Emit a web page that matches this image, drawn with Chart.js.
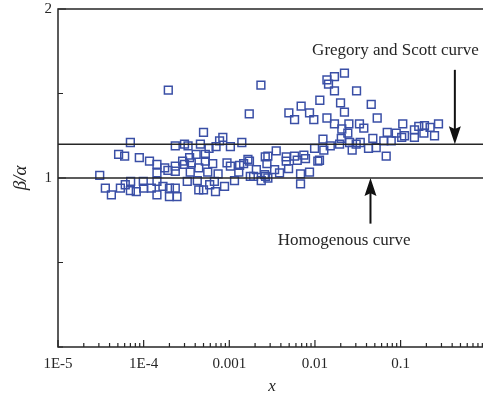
<!DOCTYPE html>
<html>
<head>
<meta charset="utf-8">
<script src="https://cdn.jsdelivr.net/npm/chart.js@4.4.1/dist/chart.umd.min.js"></script>
<style>
    html, body { margin: 0; padding: 0; background: #fff; overflow: hidden; }
    #wrap { position: relative; width: 498px; height: 401px; margin-top: -6px; }
</style>
</head>
<body>
<div id="wrap"><canvas id="ratioChart"></canvas></div>
<script>
const xTickValues = [1e-5, 1e-4, 1e-3, 1e-2, 1e-1, 1];
const xTickLabels = ['1E-5', '1E-4', '0.001', '0.01', '0.1', '1'];
const yTickValues = [0, 0.5, 1, 1.5, 2];
const yTickLabels = ['', '', '1', '', '2'];

const homogenousLevel = 1;
const gregoryScottLevel = 1.2;
const annotationLabels = ['Gregory and Scott curve', 'Homogenous curve'];

// measured points, x and y paired by index
const sampleX = [
    1.94e-4, 2.34e-3, 1.71e-3, 5.0e-4, 8.4e-4, 7.7e-4, 7.0e-5, 2.34e-4, 3.0e-4, 3.3e-4,
    4.6e-4, 5.8e-4, 7.0e-4, 1.03e-3, 1.40e-3, 5.1e-5, 6.0e-5, 8.9e-5, 1.17e-4, 1.43e-4,
    1.76e-4, 2.34e-4, 2.85e-4, 3.44e-4, 4.1e-4, 5.25e-4, 5.25e-4, 3.6e-4, 3.0e-4, 4.4e-4,
    6.4e-4, 9.4e-4, 1.03e-3, 1.47e-3, 1.72e-3, 2.63e-3, 1.43e-4, 2.34e-4, 1.92e-4, 3.5e-4,
    5.6e-4, 7.4e-4, 1.29e-3, 2.07e-3, 3.07e-5, 3.57e-5, 4.2e-5, 5.35e-5, 6.1e-5, 7.05e-5,
    8.2e-5, 7.0e-5, 9.9e-5, 1.0e-4, 1.23e-4, 1.43e-4, 1.43e-4, 1.68e-4, 2.0e-4, 2.0e-4,
    2.45e-4, 2.34e-4, 3.23e-4, 4.23e-4, 4.4e-4, 5.0e-4, 5.9e-4, 6.9e-4, 8.8e-4, 1.15e-3,
    2.36e-3, 1.92e-3, 6.7e-4,
    2.21e-2, 1.69e-2, 1.38e-2, 1.44e-2, 1.69e-2, 3.06e-2, 1.14e-2, 1.99e-2, 4.54e-2, 6.9e-3,
    4.96e-3, 5.78e-3, 8.64e-3, 9.7e-3, 2.21e-2, 5.33e-2, 1.38e-2, 1.69e-2, 2.49e-2, 3.31e-2,
    3.72e-2, 2.06e-2, 2.42e-2, 0.106, 6.98e-2, 8.89e-2, 0.111, 0.145, 0.163, 0.190,
    0.221, 0.277, 0.249, 0.187, 0.145, 0.103, 7.77e-2, 6.37e-2, 4.74e-2, 2.03e-2,
    1.24e-2, 2.54e-2, 3.03e-2, 3.38e-2, 1.94e-2, 1.51e-2, 9.9e-3, 1.27e-2, 2.72e-2, 4.22e-2,
    5.19e-2, 6.79e-2, 1.13e-2, 7.42e-3, 7.76e-3, 5.78e-3, 6.21e-3, 4.62e-3, 3.53e-3, 2.82e-3,
    4.92e-3, 6.79e-3, 8.64e-3, 6.79e-3, 3.38e-3, 2.58e-3, 3.86e-3, 2.82e-3, 4.62e-3,
    2.75e-3, 1.08e-2, 1.32e-3, 1.65e-3, 1.76e-3, 2.65e-3
];
const sampleY = [
    1.52, 1.55, 1.38, 1.27, 1.24, 1.22, 1.21, 1.19, 1.20, 1.19,
    1.20, 1.175, 1.185, 1.185, 1.21, 1.14, 1.13, 1.12, 1.10, 1.08,
    1.06, 1.07, 1.10, 1.12, 1.14, 1.14, 1.10, 1.09, 1.08, 1.06,
    1.085, 1.09, 1.07, 1.085, 1.10, 1.125, 1.03, 1.04, 1.045, 1.035,
    1.035, 1.025, 1.035, 1.05, 1.015, 0.94, 0.90, 0.94, 0.96, 0.98,
    0.92, 0.925, 0.98, 0.94, 0.94, 0.98, 0.90, 0.95, 0.94, 0.89,
    0.89, 0.94, 0.98, 0.985, 0.93, 0.93, 0.96, 0.92, 0.95, 0.985,
    0.985, 1.01, 0.98,
    1.62, 1.60, 1.58, 1.555, 1.515, 1.515, 1.46, 1.445, 1.435, 1.425,
    1.385, 1.345, 1.385, 1.345, 1.39, 1.355, 1.355, 1.32, 1.32, 1.32,
    1.295, 1.29, 1.265, 1.32, 1.27, 1.265, 1.25, 1.285, 1.305, 1.31,
    1.30, 1.32, 1.25, 1.265, 1.24, 1.24, 1.22, 1.22, 1.235, 1.235,
    1.23, 1.21, 1.20, 1.21, 1.20, 1.19, 1.175, 1.165, 1.165, 1.175,
    1.18, 1.13, 1.105, 1.135, 1.115, 1.13, 1.105, 1.125, 1.16, 1.13,
    1.055, 1.025, 1.035, 0.965, 1.05, 1.02, 1.03, 1.00, 1.10,
    1.085, 1.10, 1.075, 1.11, 1.01, 1.01
];

const ink = '#262626';
const markerBlue = '#3a4fa6';
const serif = "'Liberation Serif', 'DejaVu Serif', serif";

function drawArrow(ctx, px, fromY, toY) {
    const dir = Math.sign(toY - fromY);
    const headLen = 18;
    const headHalf = 6;

    ctx.beginPath();
    ctx.moveTo(px, fromY);
    ctx.lineTo(px, toY - dir * headLen * 0.8);
    ctx.stroke();

    ctx.beginPath();
    ctx.moveTo(px, toY);
    ctx.lineTo(px - headHalf, toY - dir * headLen);
    ctx.lineTo(px, toY - dir * headLen * 0.85);
    ctx.lineTo(px + headHalf, toY - dir * headLen);
    ctx.closePath();
    ctx.fill();
}

const frameAndNotes = {
    id: 'frameAndNotes',
    afterDatasetsDraw(chart) {
        const { ctx, chartArea: area, scales: { x, y } } = chart;

        ctx.save();
        ctx.strokeStyle = ink;
        ctx.lineWidth = 1.5;

        ctx.beginPath();
        ctx.moveTo(area.left, area.top);
        ctx.lineTo(area.right, area.top);
        ctx.lineTo(area.right, area.bottom);
        ctx.lineTo(area.left, area.bottom);
        ctx.closePath();
        ctx.stroke();

        // inside ticks on the x axis
        ctx.lineWidth = 1.2;
        ctx.beginPath();
        for (let d = -5; d <= 0; d++) {
            const major = x.getPixelForValue(Math.pow(10, d));
            ctx.moveTo(major, area.bottom);
            ctx.lineTo(major, area.bottom - 7);
            if (d === 0) {
                continue;
            }
            for (let m = 2; m <= 9; m++) {
                const px = x.getPixelForValue(m * Math.pow(10, d));
                ctx.moveTo(px, area.bottom);
                ctx.lineTo(px, area.bottom - 4);
            }
        }

        // inside ticks on the y axis
        yTickValues.forEach((value, i) => {
            const py = y.getPixelForValue(value);
            ctx.moveTo(area.left, py);
            ctx.lineTo(area.left + (yTickLabels[i] ? 8 : 5), py);
        });
        ctx.stroke();

        // arrows and their labels
        ctx.strokeStyle = '#111';
        ctx.fillStyle = '#111';
        ctx.lineWidth = 2;
        drawArrow(ctx, x.getPixelForValue(0.43), y.getPixelForValue(1.64), y.getPixelForValue(gregoryScottLevel));
        drawArrow(ctx, x.getPixelForValue(0.0445), y.getPixelForValue(0.73), y.getPixelForValue(homogenousLevel));

        ctx.fillStyle = ink;
        ctx.font = '17px ' + serif;
        ctx.textAlign = 'center';
        ctx.textBaseline = 'middle';
        ctx.fillText(annotationLabels[0], x.getPixelForValue(0.087), y.getPixelForValue(1.755));
        ctx.fillText(annotationLabels[1], x.getPixelForValue(0.0219), y.getPixelForValue(0.632));
        ctx.restore();
    },
};

const canvas = document.getElementById('ratioChart');

new Chart(canvas, {
    data: {
        datasets: [
            {
                type: 'line',
                data: [{ x: xTickValues[0], y: homogenousLevel }, { x: xTickValues[5], y: homogenousLevel }],
                borderColor: ink,
                borderWidth: 1.4,
                pointRadius: 0,
            },
            {
                type: 'line',
                data: [{ x: xTickValues[0], y: gregoryScottLevel }, { x: xTickValues[5], y: gregoryScottLevel }],
                borderColor: ink,
                borderWidth: 1.4,
                pointRadius: 0,
            },
            {
                type: 'scatter',
                data: sampleX.map((value, i) => ({ x: value, y: sampleY[i] })),
                pointStyle: 'rect',
                pointRadius: 5.5,
                borderColor: markerBlue,
                borderWidth: 1.5,
                backgroundColor: 'rgba(0,0,0,0)',
            },
        ],
    },
    options: {
        responsive: true,
        maintainAspectRatio: false,
        animation: false,
        events: [],
        layout: {
            padding: { top: 3, right: 4, left: 0, bottom: 0 },
        },
        plugins: {
            legend: { display: false },
            tooltip: { enabled: false },
        },
        scales: {
            x: {
                type: 'logarithmic',
                min: xTickValues[0],
                max: xTickValues[xTickValues.length - 1],
                afterBuildTicks: (scale) => {
                    scale.ticks = xTickValues.map((value) => ({ value }));
                },
                afterFit: (scale) => {
                    scale.height = 48;
                },
                grid: { display: false, drawTicks: false },
                border: { display: false },
                ticks: {
                    autoSkip: false,
                    maxRotation: 0,
                    padding: 8,
                    color: ink,
                    font: { family: serif, size: 15 },
                    callback: (value) => {
                        const i = xTickValues.findIndex((v) => Math.abs(Math.log10(v) - Math.log10(value)) < 1e-6);
                        return i >= 0 ? xTickLabels[i] : '';
                    },
                },
                title: {
                    display: true,
                    text: 'x',
                    color: ink,
                    padding: { top: 0, bottom: -2 },
                    font: { family: serif, size: 17, style: 'italic' },
                },
            },
            y: {
                min: 0,
                max: 2,
                afterBuildTicks: (scale) => {
                    scale.ticks = yTickValues.map((value) => ({ value }));
                },
                afterFit: (scale) => {
                    scale.width = 58;
                },
                grid: { display: false, drawTicks: false },
                border: { display: false },
                ticks: {
                    padding: 6,
                    color: ink,
                    font: { family: serif, size: 15 },
                    callback: (value) => yTickLabels[yTickValues.indexOf(value)] || '',
                },
                title: {
                    display: true,
                    text: 'β/α',
                    color: ink,
                    padding: { top: 10, bottom: 0 },
                    font: { family: serif, size: 19, style: 'italic' },
                },
            },
        },
    },
    plugins: [frameAndNotes],
});
</script>
</body>
</html>
